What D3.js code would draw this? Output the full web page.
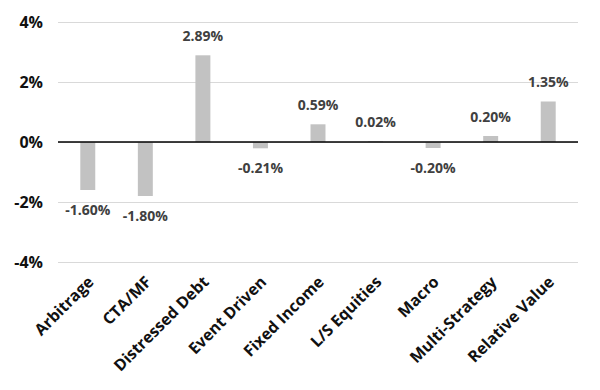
<!DOCTYPE html>
<html>
<head>
<meta charset="utf-8">
<script src="https://cdn.jsdelivr.net/npm/d3@7"></script>
<style>
  body { margin: 0; background: #fff; }
  text { font-family: "Open Sans", Lato, sans-serif; font-weight: bold; }
</style>
</head>
<body>
<svg width="600" height="390"></svg>
<script>
var svg = d3.select('svg');

// strategy names and their returns (%)
var categories = ['Arbitrage', 'CTA/MF', 'Distressed Debt', 'Event Driven', 'Fixed Income',
  'L/S Equities', 'Macro', 'Multi-Strategy', 'Relative Value'];
var returns = [-1.60, -1.80, 2.89, -0.21, 0.59, 0.02, -0.20, 0.20, 1.35];
var yTicks = [-4, -2, 0, 2, 4];

var x = d3.scaleBand()
  .domain(categories)
  .range([59, 577])
  .paddingInner(0.74)
  .paddingOuter(0.37);

var y = d3.scaleLinear()
  .domain([-4, 4])
  .range([262, 22]);

// gridlines + y labels
var yAxis = d3.axisLeft(y)
  .tickValues(yTicks)
  .tickSize(-520)
  .tickPadding(15)
  .tickFormat(d => d + '%');

svg.append('g')
  .attr('transform', 'translate(58,0)')
  .call(yAxis)
  .call(g => g.select('.domain').remove())
  .call(g => g.selectAll('line').attr('stroke', '#d9d9d9'))
  .call(g => g.selectAll('text').attr('fill', '#111').style('font-size', '16px'));

// bars
svg.append('g')
  .selectAll('rect')
  .data(returns)
  .join('rect')
    .attr('x', (d, i) => x(categories[i]))
    .attr('y', d => y(Math.max(0, d)))
    .attr('width', x.bandwidth())
    .attr('height', d => Math.abs(y(d) - y(0)))
    .attr('fill', '#c2c2c2');

// zero line
svg.append('line')
  .attr('x1', 58).attr('x2', 578)
  .attr('y1', y(0)).attr('y2', y(0))
  .attr('stroke', '#000').attr('stroke-width', 1.3);

// value labels
svg.append('g')
  .selectAll('text')
  .data(returns)
  .join('text')
    .attr('x', (d, i) => x(categories[i]) + x.bandwidth() / 2)
    .attr('y', d => d >= 0 ? y(d) - 19 : y(d) + 20)
    .attr('dy', '0.35em')
    .attr('text-anchor', 'middle')
    .attr('fill', '#404040')
    .style('font-size', '14px')
    .text(d => d.toFixed(2) + '%');

// category labels
svg.append('g')
  .selectAll('text')
  .data(categories)
  .join('text')
    .attr('transform', d => 'translate(' + (x(d) + x.bandwidth() / 2 + 3) + ',279)rotate(-45)')
    .attr('text-anchor', 'end')
    .attr('dy', '0.35em')
    .attr('fill', '#111')
    .style('font-size', '16px')
    .text(d => d);
</script>
</body>
</html>
